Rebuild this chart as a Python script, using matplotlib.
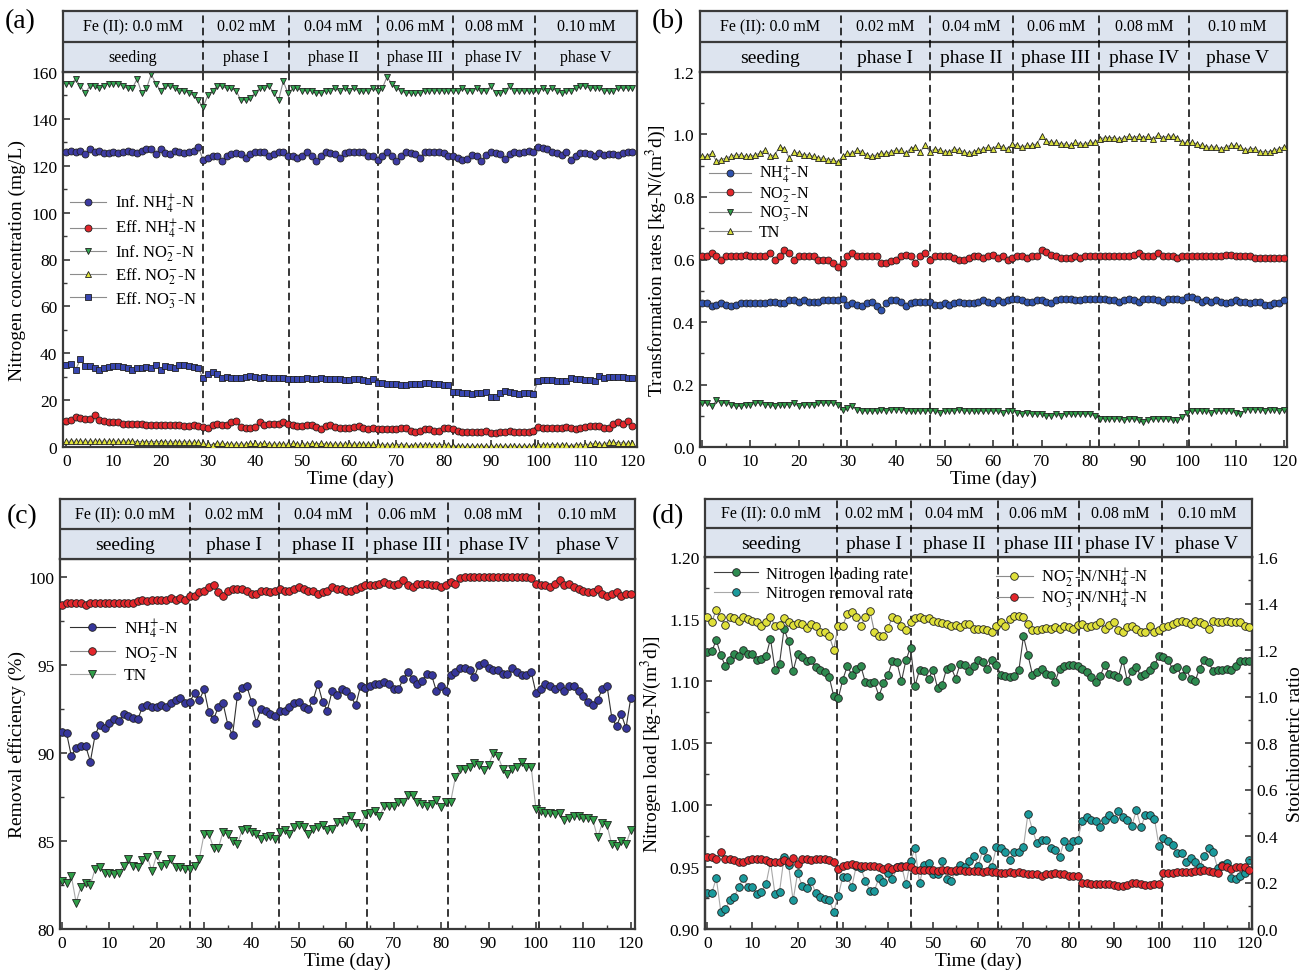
import numpy as np
import matplotlib
matplotlib.use('Agg')
import matplotlib.pyplot as plt
from matplotlib.ticker import MultipleLocator, FormatStrFormatter

plt.rcParams['font.family'] = ['Liberation Serif', 'DejaVu Serif']
plt.rcParams['mathtext.fontset'] = 'stix'

fe_labels = ['Fe (II): 0.0 mM', '0.02 mM', '0.04 mM', '0.06 mM', '0.08 mM', '0.10 mM']
phase_labels = ['seeding', 'phase I', 'phase II', 'phase III', 'phase IV', 'phase V']

# phase change days
bounds_a = [28.9, 47.3, 66.1, 81.9, 99.4]
bounds_b = [28.6, 47.0, 64.1, 81.9, 100.3]
bounds_c = [27.0, 45.8, 64.3, 81.5, 100.7]
bounds_d = [28.7, 45.2, 64.4, 82.3, 100.7]

# ---------------- (a) nitrogen concentration, mg/L ----------------
a_inf_nh4 = [126, 126.5, 126, 126.5, 125, 127, 126, 126.5, 125.5, 125.5,
             126, 125.5, 126, 126.5, 126, 125.5, 126.5, 127, 127, 125,
             127, 125.5, 125, 126.5, 126, 125.5, 126, 126.5, 128, 122.5,
             123.5, 124, 124, 122, 124, 125, 125.5, 125, 123.5, 125,
             126, 126, 126, 124, 125, 126, 126, 124, 124, 123.5,
             124, 126, 124, 122, 124, 126, 125.5, 125, 123.5, 125.5,
             126, 126, 126, 126, 124, 124, 122.5, 124, 126, 124,
             122, 124, 126, 125.5, 125, 123.5, 126, 126, 126, 126,
             125.5, 124, 124, 123.5, 122.5, 123, 124.5, 124, 122, 124.5,
             126, 125.5, 125, 123, 125, 126, 125.5, 126, 126.5, 126,
             128, 127.5, 127, 126, 125.5, 124.5, 126, 122.5, 124, 125.5,
             125.5, 125, 124, 125.5, 124.5, 125, 125, 124.5, 125.5, 126,
             126]
a_eff_nh4 = [11, 11.5, 13, 12.5, 12, 12, 13.5, 11.5, 11, 10.5,
             10.5, 10.5, 10, 10, 10, 10, 10, 9.5, 9.5, 9.5,
             9.5, 9.5, 9.5, 9.5, 9.5, 9, 9, 9.5, 9, 8.5,
             8, 9.5, 10, 9.5, 9.5, 10.5, 11, 8.5, 8, 8,
             8.5, 10.5, 9.5, 10, 10, 10, 10.5, 10, 9.5, 9,
             9, 9.5, 9.5, 8.5, 7.5, 9, 9.5, 8.5, 8, 8,
             8, 8.5, 9, 8, 7.5, 8, 7.5, 7.5, 7.5, 7.5,
             7.5, 8, 8, 7, 6.5, 7, 7.5, 7.5, 7, 7,
             8, 8, 7.5, 7, 6.5, 6.5, 6.5, 6.5, 6.5, 7,
             6, 6, 6.5, 6.5, 7, 6.5, 6.5, 6.5, 6.5, 7,
             8.5, 8, 8, 8, 8, 8, 8.5, 8, 7.5, 8,
             8.5, 9, 9, 9, 8, 8, 10, 10.5, 10, 11,
             9]
a_inf_no2 = [155, 155, 157, 154, 151, 154, 154, 153, 154, 155,
             155, 155, 154, 153, 153, 157, 151, 153, 159, 155,
             152, 154, 154, 153, 152, 152, 151, 150, 148, 145,
             150, 152, 154, 154, 153, 153, 152, 148, 148, 149,
             151, 153, 153, 154, 151, 148, 156, 151, 153, 153,
             152, 152, 152, 151, 151, 152, 152, 153, 152, 153,
             152, 153, 152, 152, 152, 153, 152, 153, 158, 155,
             153, 152, 151, 151, 151, 151, 152, 152, 152, 152,
             152, 152, 152, 152, 153, 152, 152, 153, 152, 152,
             154, 151, 151, 152, 154, 152, 152, 152, 152, 152,
             152, 153, 152, 153, 152, 151, 152, 152, 153, 154,
             154, 153, 153, 153, 152, 152, 152, 153, 153, 153,
             153]
a_eff_no2 = [2.5, 2.5, 2.5, 2.5, 2.5, 2.5, 2.5, 2.5, 2.5, 2.5,
             2.5, 2.5, 2.5, 2.5, 2.5, 2.3, 2.3, 2.3, 2.3, 2.3,
             2.3, 2.2, 2.2, 2.2, 2.2, 2.2, 2.2, 2.0, 2.0, 1.5,
             1.2, 1.0, 1.8, 1.5, 1.3, 1.2, 1.3, 1.3, 1.2, 1.5,
             1.5, 1.2, 1.5, 1.3, 1.2, 1.3, 1.3, 1.2, 1.5, 1.3,
             1.2, 1.3, 1.5, 1.4, 1.5, 1.3, 1.2, 1.3, 1.2, 1.3,
             1.3, 1.2, 1.3, 1.2, 1.3, 1.2, 1.0, 0.8, 1.0, 0.8,
             1.0, 1.0, 0.8, 0.5, 1.0, 0.8, 1.0, 1.0, 1.0, 1.0,
             1.0, 0.8, 0.5, 0.5, 0.3, 0.3, 0.3, 0.3, 0.3, 0.3,
             0.3, 0.3, 0.3, 0.3, 0.3, 0.3, 0.3, 0.3, 0.3, 0.3,
             0.8, 1.0, 1.0, 1.0, 1.0, 0.8, 0.8, 0.5, 1.0, 1.0,
             1.0, 1.2, 1.5, 1.3, 1.2, 2.0, 2.0, 1.8, 1.8, 1.5,
             1.8]
a_eff_no3 = [35, 35.5, 33, 37.5, 34.5, 34.5, 33.5, 33, 33.5, 34,
             34.5, 34.5, 34, 33.5, 33, 33.5, 33.5, 34, 33.5, 35,
             33, 34.5, 34, 33.5, 35, 35, 34.5, 34, 33.5, 29.5,
             31, 32, 31, 29.5, 30, 29.5, 29.5, 29.5, 30, 30.5,
             30, 29.5, 30, 29.5, 29.5, 29.5, 29.5, 29, 29, 29,
             29, 29.5, 29, 29, 29.5, 29, 29, 29, 29, 28.5,
             28.5, 29, 29, 28.5, 28, 29, 27.5, 27.5, 27, 27,
             27, 26.5, 26.5, 27, 27, 27, 27.5, 27.5, 27, 27,
             26.5, 26.5, 23.5, 23.5, 23, 23, 22.5, 23, 23, 23.5,
             21.5, 21.5, 23, 24, 23.5, 23, 22.5, 23, 23, 22.5,
             28, 28.5, 28.5, 28.5, 28, 28, 28, 29.5, 29, 29,
             28.5, 28.5, 28, 30.5, 29.5, 30, 30, 30, 30, 29.5,
             29.5]

# ---------------- (b) transformation rates, kg-N/(m3 d) ----------------
b_nh4 = [0.46, 0.46, 0.45, 0.455, 0.46, 0.455, 0.45, 0.455, 0.46, 0.46,
         0.46, 0.46, 0.46, 0.46, 0.465, 0.465, 0.46, 0.46, 0.47, 0.47,
         0.465, 0.47, 0.465, 0.465, 0.465, 0.47, 0.47, 0.47, 0.47, 0.475,
         0.455, 0.46, 0.455, 0.45, 0.46, 0.465, 0.45, 0.44, 0.46, 0.47,
         0.47, 0.465, 0.45, 0.46, 0.465, 0.465, 0.465, 0.465, 0.455, 0.455,
         0.46, 0.455, 0.46, 0.465, 0.46, 0.46, 0.46, 0.465, 0.47, 0.465,
         0.46, 0.47, 0.465, 0.47, 0.475, 0.475, 0.47, 0.465, 0.465, 0.47,
         0.47, 0.465, 0.46, 0.47, 0.475, 0.475, 0.475, 0.47, 0.47, 0.475,
         0.475, 0.475, 0.475, 0.475, 0.47, 0.47, 0.465, 0.47, 0.475, 0.47,
         0.465, 0.475, 0.475, 0.475, 0.47, 0.465, 0.475, 0.475, 0.475, 0.47,
         0.48, 0.48, 0.475, 0.465, 0.47, 0.465, 0.47, 0.465, 0.46, 0.465,
         0.47, 0.465, 0.465, 0.46, 0.465, 0.465, 0.455, 0.455, 0.46, 0.46,
         0.47]
b_no2 = [0.61, 0.61, 0.62, 0.61, 0.60, 0.61, 0.61, 0.61, 0.61, 0.615,
         0.61, 0.61, 0.61, 0.61, 0.62, 0.60, 0.61, 0.63, 0.62, 0.60,
         0.61, 0.61, 0.61, 0.61, 0.60, 0.60, 0.60, 0.59, 0.575, 0.59,
         0.61, 0.62, 0.61, 0.61, 0.61, 0.61, 0.61, 0.59, 0.59, 0.595,
         0.60, 0.61, 0.615, 0.61, 0.59, 0.61, 0.62, 0.60, 0.61, 0.61,
         0.61, 0.61, 0.605, 0.60, 0.60, 0.605, 0.61, 0.61, 0.605, 0.61,
         0.615, 0.605, 0.61, 0.60, 0.605, 0.61, 0.61, 0.605, 0.61, 0.61,
         0.63, 0.625, 0.615, 0.61, 0.605, 0.605, 0.605, 0.61, 0.605, 0.61,
         0.61, 0.61, 0.61, 0.61, 0.61, 0.61, 0.61, 0.61, 0.61, 0.615,
         0.62, 0.61, 0.61, 0.61, 0.62, 0.61, 0.61, 0.61, 0.605, 0.61,
         0.61, 0.61, 0.61, 0.61, 0.61, 0.61, 0.61, 0.61, 0.615, 0.615,
         0.61, 0.61, 0.61, 0.61, 0.605, 0.605, 0.605, 0.605, 0.605, 0.605,
         0.605]
b_no3 = [0.14, 0.14, 0.13, 0.15, 0.14, 0.14, 0.135, 0.13, 0.13, 0.135,
         0.135, 0.14, 0.14, 0.135, 0.135, 0.13, 0.135, 0.135, 0.135, 0.14,
         0.13, 0.135, 0.135, 0.135, 0.14, 0.14, 0.14, 0.14, 0.135, 0.12,
         0.125, 0.13, 0.12, 0.115, 0.115, 0.115, 0.115, 0.12, 0.115, 0.12,
         0.12, 0.12, 0.115, 0.115, 0.115, 0.115, 0.115, 0.115, 0.115, 0.11,
         0.115, 0.115, 0.115, 0.12, 0.115, 0.115, 0.115, 0.115, 0.115, 0.115,
         0.115, 0.115, 0.11, 0.115, 0.115, 0.11, 0.105, 0.11, 0.105, 0.105,
         0.105, 0.10, 0.10, 0.105, 0.10, 0.105, 0.105, 0.105, 0.105, 0.105,
         0.105, 0.10, 0.09, 0.09, 0.09, 0.09, 0.09, 0.085, 0.09, 0.09,
         0.085, 0.08, 0.085, 0.09, 0.09, 0.09, 0.09, 0.085, 0.085, 0.095,
         0.11, 0.115, 0.115, 0.115, 0.115, 0.11, 0.115, 0.115, 0.115, 0.115,
         0.11, 0.105, 0.12, 0.12, 0.12, 0.12, 0.115, 0.12, 0.12, 0.115,
         0.12]
b_tn = [0.930, 0.930, 0.940, 0.915, 0.920, 0.925, 0.930, 0.935, 0.935, 0.930,
        0.930, 0.935, 0.940, 0.950, 0.930, 0.935, 0.960, 0.955, 0.925, 0.945,
        0.940, 0.935, 0.935, 0.930, 0.925, 0.925, 0.920, 0.920, 0.912, 0.930,
        0.940, 0.940, 0.950, 0.945, 0.935, 0.930, 0.935, 0.940, 0.940, 0.945,
        0.950, 0.950, 0.940, 0.955, 0.960, 0.945, 0.965, 0.945, 0.955, 0.950,
        0.945, 0.945, 0.955, 0.950, 0.945, 0.940, 0.945, 0.950, 0.955, 0.960,
        0.955, 0.965, 0.960, 0.955, 0.970, 0.965, 0.960, 0.965, 0.965, 0.970,
        0.995, 0.980, 0.975, 0.975, 0.970, 0.970, 0.965, 0.975, 0.970, 0.970,
        0.975, 0.975, 0.985, 0.990, 0.990, 0.990, 0.985, 0.990, 0.995, 0.990,
        0.995, 0.990, 0.995, 0.985, 1.000, 0.990, 0.995, 0.995, 0.990, 0.975,
        0.975, 0.975, 0.970, 0.965, 0.960, 0.960, 0.960, 0.955, 0.960, 0.965,
        0.965, 0.960, 0.950, 0.955, 0.955, 0.945, 0.945, 0.945, 0.950, 0.955,
        0.960]

# ---------------- (c) removal efficiency, % ----------------
c_nh4 = [91.2, 91.1, 89.8, 90.3, 90.4, 90.4, 89.5, 91.0, 91.6, 91.4,
         91.7, 91.9, 91.8, 92.2, 92.1, 92.0, 91.9, 92.6, 92.7, 92.6,
         92.6, 92.7, 92.6, 92.8, 93.0, 93.1, 92.8, 92.9, 93.4, 93.0,
         93.6, 92.3, 91.9, 92.6, 92.8, 91.6, 91.0, 93.2, 93.7, 93.8,
         92.9, 91.7, 92.5, 92.4, 92.2, 92.1, 92.4, 92.4, 92.6, 92.8,
         92.9, 92.6, 92.5, 93.0, 93.9, 92.9, 92.4, 93.5, 93.3, 93.6,
         93.5, 93.2, 92.7, 93.8, 93.7, 93.8, 93.9, 93.9, 94.0, 93.9,
         93.6, 93.6, 94.2, 94.6, 94.2, 93.9, 94.1, 94.5, 94.4, 93.5,
         93.8, 93.5, 94.4, 94.6, 94.8, 94.8, 94.7, 94.3, 95.0, 95.1,
         94.8, 94.7, 94.7, 94.5, 94.5, 94.8, 94.6, 94.4, 94.4, 94.6,
         93.4, 93.6, 93.9, 93.8, 93.6, 93.8, 93.5, 93.8, 93.8, 93.5,
         93.2, 92.9, 92.7, 93.0, 93.6, 93.8, 92.0, 91.5, 92.2, 91.4,
         93.1]
c_no2 = [98.4, 98.5, 98.5, 98.5, 98.5, 98.4, 98.5, 98.5, 98.5, 98.5,
         98.5, 98.5, 98.5, 98.5, 98.5, 98.5, 98.6, 98.7, 98.6, 98.7,
         98.7, 98.7, 98.7, 98.8, 98.7, 98.8, 98.7, 98.9, 98.9, 99.1,
         99.2, 99.4, 99.5, 99.1, 98.9, 99.2, 99.3, 99.3, 99.3, 99.2,
         99.0, 99.0, 99.2, 99.2, 99.1, 99.2, 99.3, 99.2, 99.2, 99.3,
         99.4, 99.3, 99.2, 99.2, 99.0, 99.1, 99.2, 99.4, 99.3, 99.3,
         99.2, 99.2, 99.3, 99.4, 99.5, 99.5, 99.5, 99.6, 99.7, 99.6,
         99.5, 99.6, 99.8, 99.5, 99.4, 99.6, 99.6, 99.6, 99.5, 99.5,
         99.4, 99.5, 99.7, 99.6, 99.9, 100, 100, 100, 100, 100,
         100, 100, 100, 100, 100, 100, 100, 100, 100, 99.9,
         99.6, 99.5, 99.5, 99.4, 99.6, 99.8, 99.5, 99.6, 99.4, 99.3,
         99.2, 99.1, 99.1, 99.3, 99.0, 98.9, 99.0, 99.1, 98.9, 99.0,
         99.0]
c_tn = [82.7, 82.6, 83.0, 81.5, 82.4, 82.6, 82.5, 83.4, 83.5, 83.2,
        83.2, 83.1, 83.2, 83.6, 84.0, 83.6, 83.5, 83.9, 84.1, 83.3,
        84.2, 83.6, 83.7, 84.0, 83.5, 83.5, 83.4, 83.4, 83.6, 84.0,
        85.4, 85.4, 84.6, 84.6, 85.5, 85.4, 85.0, 84.8, 85.6, 85.7,
        85.5, 85.4, 85.1, 85.2, 85.3, 85.1, 85.5, 85.6, 85.4, 85.8,
        85.9, 85.8, 85.4, 85.7, 85.8, 85.9, 85.6, 85.7, 86.1, 86.1,
        86.2, 86.4, 86.0, 85.8, 86.5, 86.6, 86.7, 86.4, 87.0, 87.0,
        87.0, 87.2, 87.2, 87.6, 87.6, 87.2, 87.1, 87.0, 87.1, 87.3,
        86.9, 87.2, 87.2, 88.6, 89.1, 89.1, 89.2, 89.4, 89.3, 89.0,
        89.3, 90.0, 89.8, 89.1, 88.8, 89.1, 89.2, 89.5, 89.2, 89.2,
        86.8, 86.7, 86.6, 86.6, 86.5, 86.6, 86.2, 86.3, 86.4, 86.4,
        86.3, 86.3, 86.2, 85.2, 86.0, 85.9, 84.8, 84.7, 85.0, 84.8,
        85.6]

# ---------------- (d) nitrogen load (left) and ratios (right) ----------------
d_load = [1.123, 1.124, 1.133, 1.121, 1.112, 1.117, 1.122, 1.120, 1.125, 1.122,
          1.122, 1.117, 1.118, 1.120, 1.134, 1.109, 1.114, 1.142, 1.132, 1.108,
          1.122, 1.119, 1.116, 1.117, 1.111, 1.109, 1.107, 1.103, 1.088, 1.086,
          1.101, 1.112, 1.105, 1.110, 1.112, 1.099, 1.098, 1.099, 1.088, 1.098,
          1.105, 1.116, 1.115, 1.100, 1.117, 1.127, 1.096, 1.109, 1.108, 1.102,
          1.109, 1.094, 1.097, 1.110, 1.111, 1.102, 1.114, 1.113, 1.108, 1.112,
          1.117, 1.115, 1.110, 1.117, 1.113, 1.105, 1.104, 1.103, 1.104, 1.109,
          1.136, 1.121, 1.105, 1.107, 1.110, 1.106, 1.105, 1.099, 1.110, 1.112,
          1.113, 1.113, 1.112, 1.110, 1.107, 1.103, 1.099, 1.104, 1.113, 1.106,
          1.105, 1.103, 1.117, 1.100, 1.108, 1.111, 1.104, 1.106, 1.109, 1.113,
          1.120, 1.119, 1.117, 1.110, 1.111, 1.104, 1.110, 1.102, 1.100, 1.110,
          1.117, 1.115, 1.108, 1.109, 1.109, 1.110, 1.109, 1.112, 1.116, 1.116,
          1.116]
d_removal = [0.929, 0.929, 0.941, 0.914, 0.916, 0.923, 0.926, 0.934, 0.941, 0.934,
             0.934, 0.928, 0.930, 0.936, 0.954, 0.928, 0.930, 0.958, 0.952, 0.923,
             0.945, 0.935, 0.933, 0.939, 0.929, 0.926, 0.924, 0.923, 0.914, 0.927,
             0.942, 0.942, 0.934, 0.951, 0.949, 0.939, 0.931, 0.931, 0.941, 0.938,
             0.945, 0.940, 0.950, 0.951, 0.936, 0.955, 0.965, 0.937, 0.952, 0.953,
             0.944, 0.944, 0.955, 0.940, 0.939, 0.947, 0.952, 0.950, 0.955, 0.959,
             0.951, 0.964, 0.957, 0.950, 0.966, 0.965, 0.962, 0.956, 0.962, 0.962,
             0.966, 0.993, 0.980, 0.969, 0.972, 0.972, 0.965, 0.964, 0.958, 0.971,
             0.966, 0.971, 0.972, 0.987, 0.990, 0.988, 0.987, 0.982, 0.988, 0.992,
             0.989, 0.995, 0.990, 0.988, 0.983, 0.996, 0.982, 0.992, 0.992, 0.989,
             0.967, 0.973, 0.971, 0.968, 0.961, 0.961, 0.954, 0.957, 0.954, 0.950,
             0.959, 0.965, 0.962, 0.949, 0.952, 0.953, 0.941, 0.940, 0.943, 0.945,
             0.956]
d_no2_ratio = [1.340, 1.322, 1.372, 1.340, 1.308, 1.343, 1.336, 1.326, 1.340, 1.333,
               1.326, 1.319, 1.305, 1.322, 1.340, 1.305, 1.308, 1.336, 1.319, 1.308,
               1.316, 1.312, 1.294, 1.312, 1.305, 1.279, 1.277, 1.262, 1.201, 1.305,
               1.305, 1.355, 1.364, 1.340, 1.305, 1.340, 1.369, 1.279, 1.262, 1.262,
               1.294, 1.343, 1.333, 1.305, 1.284, 1.319, 1.336, 1.340, 1.333, 1.336,
               1.326, 1.319, 1.316, 1.312, 1.305, 1.308, 1.298, 1.312, 1.312, 1.291,
               1.291, 1.291, 1.284, 1.277, 1.302, 1.319, 1.305, 1.333, 1.347, 1.347,
               1.340, 1.312, 1.284, 1.284, 1.291, 1.294, 1.291, 1.298, 1.291, 1.305,
               1.298, 1.291, 1.308, 1.312, 1.298, 1.305, 1.308, 1.319, 1.291, 1.308,
               1.319, 1.284, 1.277, 1.298, 1.305, 1.291, 1.277, 1.277, 1.305, 1.277,
               1.284, 1.298, 1.305, 1.312, 1.319, 1.326, 1.319, 1.312, 1.326, 1.319,
               1.312, 1.291, 1.326, 1.319, 1.319, 1.326, 1.322, 1.319, 1.319, 1.305,
               1.298]
d_no3_ratio = [0.31, 0.31, 0.30, 0.33, 0.30, 0.30, 0.295, 0.29, 0.29, 0.295,
               0.30, 0.30, 0.30, 0.295, 0.29, 0.29, 0.29, 0.295, 0.29, 0.305,
               0.28, 0.30, 0.30, 0.295, 0.30, 0.30, 0.30, 0.295, 0.29, 0.26,
               0.27, 0.275, 0.28, 0.275, 0.27, 0.27, 0.27, 0.27, 0.265, 0.26,
               0.265, 0.26, 0.265, 0.265, 0.27, 0.265, 0.255, 0.255, 0.255, 0.255,
               0.255, 0.25, 0.255, 0.255, 0.25, 0.255, 0.255, 0.25, 0.25, 0.25,
               0.25, 0.245, 0.25, 0.245, 0.245, 0.24, 0.24, 0.245, 0.24, 0.245,
               0.24, 0.235, 0.235, 0.235, 0.23, 0.235, 0.235, 0.24, 0.235, 0.235,
               0.23, 0.23, 0.23, 0.20, 0.20, 0.195, 0.195, 0.195, 0.195, 0.195,
               0.19, 0.185, 0.185, 0.19, 0.20, 0.20, 0.195, 0.19, 0.19, 0.195,
               0.195, 0.24, 0.24, 0.24, 0.245, 0.245, 0.245, 0.245, 0.25, 0.25,
               0.255, 0.25, 0.245, 0.24, 0.27, 0.265, 0.26, 0.265, 0.265, 0.265,
               0.255]

FW, FH = 1309, 978
EDGE = '#3a3a3a'
HEAD_BG = '#dde4ef'


def rect(x0, y0, x1, y1):
    # pixel box (top-left origin) -> figure fraction
    return [x0 / FW, 1 - y1 / FH, (x1 - x0) / FW, (y1 - y0) / FH]


def add_header(fig, box, xlim, bounds, size1, size2):
    hax = fig.add_axes(box)
    hax.set_xlim(xlim)
    hax.set_ylim(0, 2)
    hax.set_facecolor(HEAD_BG)
    hax.set_xticks([])
    hax.set_yticks([])
    for s in hax.spines.values():
        s.set_linewidth(1.6)
        s.set_color(EDGE)
    hax.axhline(1, color=EDGE, lw=1.6)
    for b in bounds:
        hax.axvline(b, color='k', ls=(0, (5, 3)), lw=1.1)
    edges = [xlim[0]] + bounds + [xlim[1]]
    for i in range(6):
        xc = (edges[i] + edges[i + 1]) / 2
        hax.text(xc, 1.5, fe_labels[i], ha='center', va='center', fontsize=size1)
        hax.text(xc, 0.48, phase_labels[i], ha='center', va='center', fontsize=size2)
    return hax


def style_axes(ax, xlim, ylim, ymaj, ymin, fmt, bounds):
    ax.set_xlim(xlim)
    ax.set_ylim(ylim)
    ax.xaxis.set_major_locator(MultipleLocator(10))
    ax.xaxis.set_minor_locator(MultipleLocator(5))
    ax.yaxis.set_major_locator(MultipleLocator(ymaj))
    ax.yaxis.set_minor_locator(MultipleLocator(ymin))
    ax.yaxis.set_major_formatter(FormatStrFormatter(fmt))
    ax.tick_params(which='both', direction='in', top=False, right=False,
                   labelsize=12.5, color=EDGE)
    ax.tick_params(which='major', length=5, width=1.2, pad=4)
    ax.tick_params(which='minor', length=3, width=1.0)
    for s in ax.spines.values():
        s.set_linewidth(1.6)
        s.set_color(EDGE)
    for b in bounds:
        ax.axvline(b, color='k', ls=(0, (5, 3)), lw=1.1, zorder=1)
    ax.set_xlabel('Time (day)', fontsize=14, labelpad=1)


def plot_series(ax, vals, marker, face, label, line='#8c8c8c', ms=5, lw=0.8):
    days = np.arange(len(vals))
    return ax.plot(days, vals, marker=marker, color=line, mfc=face, mec='#202020',
                   mew=0.6, ms=ms, lw=lw, label=label, zorder=3)[0]


def tight_legend(ax, handles, anchor, size, spacing, hlen=2.6):
    return ax.legend(handles=handles, loc='upper left', bbox_to_anchor=anchor,
                     frameon=False, fontsize=size, handlelength=hlen,
                     handleheight=0.5, labelspacing=spacing, handletextpad=0.5,
                     borderpad=0.2, borderaxespad=0.2)


fig = plt.figure(figsize=(FW / 100, FH / 100), dpi=100)

# ---------- (a) ----------
xa = (-0.7, 121)
ax_a = fig.add_axes(rect(63, 73, 637, 448))
style_axes(ax_a, xa, (0, 160), 20, 10, '%d', bounds_a)
ha = [plot_series(ax_a, a_inf_nh4, 'o', '#3d3ba3', r'Inf. NH$_4^{+}$-N'),
      plot_series(ax_a, a_eff_nh4, 'o', '#e3262b', r'Eff. NH$_4^{+}$-N'),
      plot_series(ax_a, a_inf_no2, 'v', '#34a853', r'Inf. NO$_2^{-}$-N'),
      plot_series(ax_a, a_eff_no2, '^', '#e2e63c', r'Eff. NO$_2^{-}$-N'),
      plot_series(ax_a, a_eff_no3, 's', '#3846b0', r'Eff. NO$_3^{-}$-N', ms=4.5)]
ax_a.set_ylabel('Nitrogen concentration (mg/L)', fontsize=14, labelpad=4)
tight_legend(ax_a, ha, (0.0, 0.70), 12, 0.14, hlen=2.2)
add_header(fig, rect(63, 12, 637, 73), xa, bounds_a, 11.5, 11.5)
fig.text(20 / FW, 1 - 22 / FH, '(a)', fontsize=20, ha='center', va='center')

# ---------- (b) ----------
xb = (-0.4, 120.6)
ax_b = fig.add_axes(rect(700, 73, 1287, 448))
style_axes(ax_b, xb, (0, 1.2), 0.2, 0.1, '%.1f', bounds_b)
hb = [plot_series(ax_b, b_nh4, 'o', '#2f52ad', r'NH$_4^{+}$-N'),
      plot_series(ax_b, b_no2, 'o', '#e3262b', r'NO$_2^{-}$-N'),
      plot_series(ax_b, b_no3, 'v', '#2f9e48', r'NO$_3^{-}$-N'),
      plot_series(ax_b, b_tn, '^', '#d9e03e', 'TN')]
ax_b.set_ylabel(r'Transformation rates [kg-N/(m$^3$d)]', fontsize=14, labelpad=3)
tight_legend(ax_b, hb, (0.005, 0.772), 11.5, 0.03)
add_header(fig, rect(700, 12, 1287, 73), xb, bounds_b, 11.5, 14)
fig.text(668 / FW, 1 - 22 / FH, '(b)', fontsize=20, ha='center', va='center')

# ---------- (c) ----------
xc = (-0.4, 120.9)
ax_c = fig.add_axes(rect(60, 560, 635, 930))
style_axes(ax_c, xc, (80, 101), 5, 2.5, '%d', bounds_c)
hc = [plot_series(ax_c, c_nh4, 'o', '#36369b', r'NH$_4^{+}$-N', line='#303030', ms=5.5),
      plot_series(ax_c, c_no2, 'o', '#e3262b', r'NO$_2^{-}$-N', ms=5.5),
      plot_series(ax_c, c_tn, 'v', '#2f9e48', 'TN', line='#a8a8a8', ms=5.5)]
ax_c.set_ylabel('Removal efficiency (%)', fontsize=14, labelpad=2)
tight_legend(ax_c, hc, (0.005, 0.862), 12.5, 0.2)
add_header(fig, rect(60, 500, 635, 560), xc, bounds_c, 11.5, 14)
fig.text(22 / FW, 1 - 517 / FH, '(c)', fontsize=20, ha='center', va='center')

# ---------- (d) ----------
xd = (-0.5, 120.6)
ax_d = fig.add_axes(rect(705, 558, 1252, 930))
style_axes(ax_d, xd, (0.90, 1.20), 0.05, 0.025, '%.2f', bounds_d)
l1 = plot_series(ax_d, d_load, 'o', '#2e8b50', 'Nitrogen loading rate', line='#404040', ms=5.5)
l2 = plot_series(ax_d, d_removal, 'o', '#1b9a9c', 'Nitrogen removal rate', line='#a8a8a8', ms=5.5)
ax_d.set_ylabel(r'Nitrogen load [kg-N/(m$^3$d)]', fontsize=14, labelpad=4)
ax_r = ax_d.twinx()
ax_r.set_ylim(0, 1.6)
ax_r.yaxis.set_major_locator(MultipleLocator(0.2))
ax_r.yaxis.set_minor_locator(MultipleLocator(0.1))
ax_r.yaxis.set_major_formatter(FormatStrFormatter('%.1f'))
ax_r.tick_params(which='both', direction='in', labelsize=12.5, color=EDGE)
ax_r.tick_params(which='major', length=5, width=1.2)
ax_r.tick_params(which='minor', length=3, width=1.0)
for s in ax_r.spines.values():
    s.set_linewidth(1.6)
    s.set_color(EDGE)
r1 = plot_series(ax_r, d_no2_ratio, 'o', '#dfe03a', r'NO$_2^{-}$-N/NH$_4^{+}$-N', line='#8c8c8c', ms=5.5)
r2 = plot_series(ax_r, d_no3_ratio, 'o', '#e3262b', r'NO$_3^{-}$-N/NH$_4^{+}$-N', line='#8c8c8c', ms=5.5)
ax_r.set_ylabel('Stoichiometric ratio', fontsize=14, labelpad=6)
tight_legend(ax_d, [l1, l2], (0.005, 0.995), 12, 0.2)
tight_legend(ax_r, [r1, r2], (0.52, 0.995), 12, -0.15, hlen=2.2)
add_header(fig, rect(705, 500, 1252, 558), xd, bounds_d, 11.5, 14)
fig.text(668 / FW, 1 - 517 / FH, '(d)', fontsize=20, ha='center', va='center')

fig.savefig('out.png', dpi=100)
